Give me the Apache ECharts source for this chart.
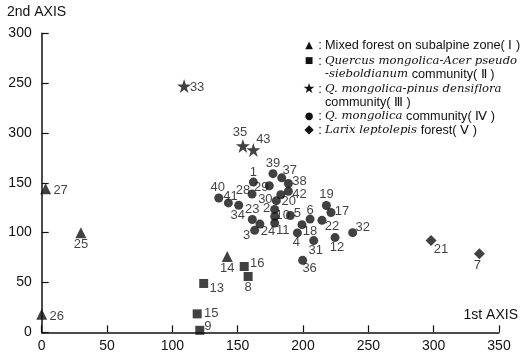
<!DOCTYPE html>
<html>
<head>
<meta charset="utf-8">
<script src="https://cdn.jsdelivr.net/npm/echarts@6/dist/echarts.min.js"></script>
<style>
html,body{margin:0;padding:0;background:#fff;}
#c{width:527px;height:358px;}
</style>
</head>
<body>
<div id="c"></div>
<script>
// ---- data ----
const xTicks = [0, 50, 100, 150, 200, 250, 300, 350];
const yTicks = [0, 50, 100, 150, 200, 250, 300];
const yTickLabels = ['0', '50', '100', '150', '300', '250', '300'];

const ids1 = [27, 25, 26, 14];
const x1 = [3, 30, 0, 142];
const y1 = [144, 100, 18, 76];

const ids2 = [16, 8, 13, 15, 9];
const x2 = [155, 158, 124, 119, 121];
const y2 = [66, 56, 49, 18.5, 2];

const ids3 = [33, 35, 43];
const x3 = [109, 154, 162];
const y3 = [247, 187, 183];

const ids4 = [40, 41, 34, 28, 1, 29, 23, 3, 24, 2, 30, 10, 11, 5, 20, 42, 38, 37, 39, 6, 18, 4, 31, 22, 19, 17, 12, 32, 36];
const x4 = [135.5, 142.9, 150.8, 161, 162, 174.2, 161.2, 163, 167, 178.3, 179.6, 178.3, 178.3, 190.3, 183, 188.8, 188.8, 183.7, 177, 205.4, 199.2, 195.7, 208.2, 214.5, 217.9, 221.4, 224.5, 238, 199.7];
const y4 = [134.8, 129.8, 127.5, 138.7, 150.7, 147, 113.2, 102.3, 108.6, 123.2, 132.1, 116.2, 109.6, 117.2, 138, 141.4, 149.3, 155, 159.2, 113.6, 108, 99.7, 92, 112.3, 127.2, 120.2, 95, 100, 72.2];

const ids5 = [21, 7];
const x5 = [298, 335];
const y5 = [92, 78.8];

const legendMarkers = ['▲', '■', '★', '●', '◆'];
// legend text lines: [marker index or -1 for continuation, rich text]
const legendLines = [
  [0, 'Mixed forest on subalpine zone( Ⅰ )'],
  [1, '{i|Quercus mongolica-Acer pseudo}'],
  [-1, '{i|-sieboldianum} community( Ⅱ )'],
  [2, '{i|Q. mongolica-pinus densiflora}'],
  [-1, 'community( Ⅲ )'],
  [3, '{i|Q. mongolica} community( Ⅳ )'],
  [4, '{i|Larix leptolepis} forest( Ⅴ )']
];

// ---- styling (positions/offsets, not data) ----
const legendLineY = [45, 61, 74, 89, 102, 116, 130];
const markerFont = ['10px', '9px', '14px', '10px', '12px'];
const labelOffset = {
  27:[15,2], 25:[0,12], 26:[15,2], 14:[0,12],
  16:[13,-3], 8:[0,11], 13:[13,5], 15:[14,0], 9:[8,-4],
  33:[13,1], 35:[-3,-14], 43:[10,-10],
  40:[-1,-11], 41:[2,-7], 34:[-1,10], 28:[-9,-4], 1:[0,-10], 29:[-8,2], 23:[0,-10],
  3:[-8,5], 24:[8,7], 2:[-8,-1], 30:[-11,-1], 10:[8,-1], 11:[8,7], 5:[7,-2],
  20:[8,7], 42:[11,3], 38:[11,-2], 37:[8,-7], 39:[0,-10], 6:[0,-9], 18:[8,7],
  4:[-1,9], 31:[2,10], 22:[10,6], 19:[0,-11], 17:[11,-1], 12:[2,10], 32:[10,-5], 36:[7,8],
  21:[10,9], 7:[-2,12]
};

const FONT = '"Liberation Sans", Arial, Helvetica, sans-serif';
const SERIF = '"DejaVu Serif", "Liberation Serif", serif';
const INK = '#111';

function mkSeries(name, ids, xs, ys, symbol, size) {
  return {
    type: 'scatter',
    name: name,
    symbol: symbol,
    symbolSize: size,
    itemStyle: { color: INK },
    data: ids.map((id, i) => ({
      value: [xs[i], ys[i]],
      label: { show: true, formatter: String(id), position: 'inside', offset: labelOffset[id] || [10, 0],
               color: INK, fontSize: 13, fontFamily: FONT, align: 'center', verticalAlign: 'middle' }
    }))
  };
}

const starPath = 'path://M50,0 L61.8,35.5 L99,35.5 L69,57.5 L80.5,93 L50,71 L19.5,93 L31,57.5 L1,35.5 L38.2,35.5 Z';

const chart = echarts.init(document.getElementById('c'), null, { renderer: 'canvas' });

const axisCommon = {
  axisLine: { show: true, lineStyle: { color: INK, width: 1.5 } },
  axisTick: { show: true, inside: true, length: 7, lineStyle: { color: INK, width: 1.2 } },
  splitLine: { show: false },
  axisLabel: { color: INK, fontSize: 14, fontFamily: FONT }
};

const graphics = [
  { type: 'text', left: 7, top: 5, style: { text: '2nd AXIS', font: '14px ' + FONT, fill: INK } },
  { type: 'text', right: 9, top: 308, style: { text: '1st AXIS', font: '14px ' + FONT, fill: INK } }
];
legendLines.forEach((ln, k) => {
  const y = legendLineY[k];
  if (ln[0] >= 0) {
    graphics.push({ type: 'text', x: 309, y: y, style: { text: legendMarkers[ln[0]], font: markerFont[ln[0]] + ' "DejaVu Sans", sans-serif', fill: INK, align: 'center', verticalAlign: 'middle' } });
    graphics.push({ type: 'text', x: 320, y: y, style: { text: ':', font: '13px ' + FONT, fill: INK, align: 'center', verticalAlign: 'middle' } });
  }
  graphics.push({
    type: 'text', x: 325, y: y,
    style: {
      text: ln[1], fill: INK, font: '12.7px ' + FONT, verticalAlign: 'middle',
      rich: { i: { fontSize: 11.7, fontStyle: 'italic', fontFamily: SERIF, fill: INK } }
    }
  });
});

chart.setOption({
  animation: false,
  backgroundColor: '#fff',
  grid: { left: 41.7, right: 28, top: 33.3, bottom: 25.7, containLabel: false },
  xAxis: Object.assign({}, axisCommon, {
    type: 'value', min: 0, max: 350, interval: 50,
    axisLabel: Object.assign({}, axisCommon.axisLabel, { margin: 7 })
  }),
  yAxis: Object.assign({}, axisCommon, {
    type: 'value', min: 0, max: 300, interval: 50,
    axisLabel: Object.assign({}, axisCommon.axisLabel, {
      margin: 10,
      formatter: v => yTickLabels[yTicks.indexOf(v)]
    })
  }),
  series: [
    mkSeries('Mixed forest on subalpine zone(Ⅰ)', ids1, x1, y1, 'triangle', 11),
    mkSeries('Quercus mongolica-Acer pseudo-sieboldianum community(Ⅱ)', ids2, x2, y2, 'rect', 9),
    mkSeries('Q. mongolica-pinus densiflora community(Ⅲ)', ids3, x3, y3, starPath, 14),
    mkSeries('Q. mongolica community(Ⅳ)', ids4, x4, y4, 'circle', 9),
    mkSeries('Larix leptolepis forest(Ⅴ)', ids5, x5, y5, 'diamond', 11)
  ],
  graphic: graphics
});
</script>
</body>
</html>
